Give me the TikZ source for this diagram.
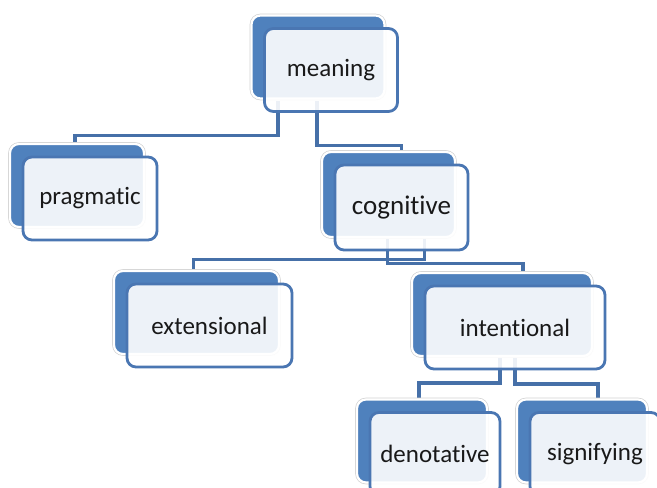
\documentclass[tikz,border=0pt]{standalone}
\usepackage{fontspec}
\setmainfont{Carlito}[Ligatures=NoCommon]
\usetikzlibrary{shadows}
\usetikzlibrary{backgrounds}

\definecolor{backblue}{HTML}{4F81BD}
\definecolor{boxline}{HTML}{4A76B2}
\definecolor{linkblue}{HTML}{4670A8}

\tikzset{
  box/.style={rectangle, rounded corners=9pt, draw=boxline, line width=2.8pt,
    fill=white, fill opacity=0.9, text opacity=1, text=black!90,
    minimum width=133pt, minimum height=83pt, inner sep=0pt,
    font=\fontsize{25}{30}\selectfont,
    general shadow={draw=gray!35, line width=3.6pt, fill opacity=1, shadow xshift=-13pt, shadow yshift=13pt},
    general shadow={fill=backblue, draw=white, line width=2.2pt, fill opacity=1, shadow xshift=-13pt, shadow yshift=13pt}},
  link/.style={draw=linkblue, line width=3.3pt}
}

\begin{document}
\begin{tikzpicture}[x=1pt, y=-1pt]
\clip (0,0) rectangle (657,488);

\node[box] (meaning) at (331,70) {meaning};
\node[box, minimum width=134pt] (pragmatic) at (90,198.5) {pragmatic};
\node[box, minimum height=85pt, font=\fontsize{27}{32}\selectfont] (cognitive) at (401.5,207.5) {cognitive};
\node[box, minimum width=165pt] (extensional) at (209.5,325.5) {extensional};
\node[box, minimum width=180pt] (intentional) at (515,327.5) {intentional};
\node[box, minimum width=130pt] (denotative) at (435,454) {denotative};
\node[box, minimum width=130pt] (signifying) at (595,454) {signifying};

\begin{scope}[on background layer]
\fill[white] (0,0) rectangle (657,488);
\draw[link] ([xshift=-53pt,yshift=12pt]meaning.south) |- ([xshift=-15pt,yshift=20pt]pragmatic.north) -- ([xshift=-15pt,yshift=13pt]pragmatic.north);
\draw[link] ([xshift=-14pt,yshift=12pt]meaning.south) |- ([yshift=18pt]cognitive.north) -- ([yshift=13pt]cognitive.north);

\draw[link] ([xshift=23pt,yshift=12pt]cognitive.south) |- ([xshift=-16pt,yshift=23pt]extensional.north) -- ([xshift=-16pt,yshift=13pt]extensional.north);
\draw[link] ([xshift=-14pt,yshift=12pt]cognitive.south) |- ([xshift=8pt,yshift=21pt]intentional.north) -- ([xshift=8pt,yshift=13pt]intentional.north);

\draw[link] ([xshift=-15pt,yshift=12pt]intentional.south) |- ([xshift=-16pt,yshift=28pt]denotative.north) -- ([xshift=-16pt,yshift=13pt]denotative.north);
\draw[link] ([yshift=12pt]intentional.south) |- ([xshift=3pt,yshift=27pt]signifying.north) -- ([xshift=3pt,yshift=13pt]signifying.north);
\end{scope}

\end{tikzpicture}
\end{document}
